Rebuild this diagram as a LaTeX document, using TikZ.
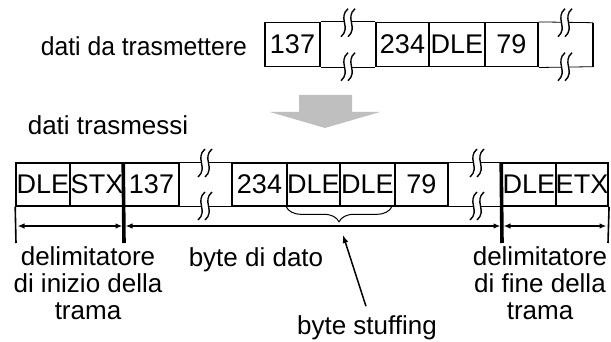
\documentclass[tikz,border=0pt]{standalone}
\usepackage{fontspec}
\setmainfont{Liberation Sans}
\newfontfamily\narrowsans{Liberation Sans}[FakeStretch=0.95]
\usetikzlibrary{arrows.meta,decorations.pathreplacing}

\begin{document}
\begin{tikzpicture}[x=1pt,y=-1pt,
  cell/.style={draw,line width=1.6pt,minimum height=43pt,inner sep=0pt,
    font=\fontsize{27}{27}\selectfont},
  rail/.style={line width=0.8pt},
  tick/.style={line width=1.6pt},
  bigtick/.style={line width=3.6pt},
  span/.style={line width=1.5pt,shorten <=1.5pt,shorten >=1.5pt,
    {Latex[length=7pt,width=5.5pt]}-{Latex[length=7pt,width=5.5pt]}},
  pointer/.style={line width=1.5pt,-{Latex[length=8pt,width=6pt]}},
  lab/.style={font=\fontsize{26}{27}\selectfont,align=center,inner sep=0pt},
  brk/.pic={
    \fill[white] (-4,-2.5) rectangle (4,2.5);
    \foreach \dx in {-3.5,3.5}
      \draw[line width=1.4pt] (\dx+3.5,-14) .. controls (\dx-7,-5) and (\dx+7,5) .. (\dx-3.5,14);
  }
]
  \useasboundingbox (0,0) rectangle (611,342);
  % data to send
  \node[cell,minimum width=55pt,minimum height=44pt] (t137) at (292.5,44.7) {137};
  \node[cell,minimum width=53pt,minimum height=44pt] (t234) at (402.5,44.7) {234};
  \node[cell,minimum width=56pt,minimum height=44pt] (tdle) at (457,44.7) {DLE};
  \node[cell,minimum width=53pt,minimum height=44pt] (t79) at (511.5,44.7) {79};
  \coordinate (tendN) at (593,22.7);
  \coordinate (tendS) at (593,66.7);
  \draw[rail] (t137.north east) -- (t234.north west);
  \draw[rail] (t137.south east) -- (t234.south west);
  \draw[rail] (t79.north east) -- (tendN);
  \draw[rail] (t79.south east) -- (tendS);
  \draw[tick] (tendN) -- (tendS);

  % transmitted frame
  \node[cell,minimum width=54pt] (bdle1) at (43,184.5) {DLE};
  \node[cell,minimum width=54pt] (bstx) at (97,184.5) {STX};
  \node[cell,minimum width=55pt] (b137) at (151.5,184.5) {137};
  \node[cell,minimum width=55pt] (b234) at (259.5,184.5) {234};
  \node[cell,minimum width=53pt] (bdle2) at (313.5,184.5) {DLE};
  \node[cell,minimum width=55pt] (bdle3) at (367.5,184.5) {DLE};
  \node[cell,minimum width=53pt] (b79) at (421.5,184.5) {79};
  \node[cell,minimum width=54pt] (bdle4) at (529,184.5) {DLE};
  \node[cell,minimum width=52pt] (betx) at (582,184.5) {ETX};
  \draw[rail] (b137.north east) -- (b234.north west);
  \draw[rail] (b137.south east) -- (b234.south west);
  \draw[rail] (b79.north east) -- (bdle4.north west);
  \draw[rail] (b79.south east) -- (bdle4.south west);

  % breaks
  \foreach \bx/\by in {348/22.7,348/66.7,565/22.7,565/66.7,205/163,205/206,477/163,477/206}
    \pic at (\bx,\by) {brk};

  % gray arrow
  \fill[black!25] (299,95) -- (352,95) -- (352,112) -- (380,112) -- (325,128)
    -- (270,112) -- (299,112) -- cycle;

  % field limits
  \coordinate (k1) at (16,243);
  \coordinate (k2) at (124,243);
  \coordinate (k3) at (502,243);
  \coordinate (k4) at (608,243);
  \draw[tick] (bdle1.south west) -- (k1);
  \draw[bigtick] (b137.north west) -- (k2);
  \draw[bigtick] (bdle4.north west) -- (k3);
  \draw[tick] (betx.south east) -- (k4);
  \coordinate (s1) at (16,226);
  \coordinate (s2) at (124,226);
  \coordinate (s3) at (502,226);
  \coordinate (s4) at (608,226);
  \draw[span] (s1) -- (s2);
  \draw[span] (s2) -- (s3);
  \draw[span] (s3) -- (s4);
  \draw[line width=1pt,decorate,decoration={brace,mirror,amplitude=15pt}]
    (bdle2.south west) -- ([xshift=-4pt]bdle3.south east);

  % labels
  \node[lab,font=\narrowsans\fontsize{26}{27}\selectfont,anchor=east] (sendlab) at (247,46) {dati da trasmettere};
  \node[lab] (sentlab) at (108,125) {dati trasmessi};
  \node[lab] (startlab) at (88,283) {delimitatore\\di inizio della\\trama};
  \node[lab] (datalab) at (256,260) {byte di dato};
  \node[lab] (endlab) at (540,283) {delimitatore\\di fine della\\trama};
  \node[lab] (stuff) at (367,328) {byte stuffing};
  \coordinate (stuffpt) at (343,235);
  \draw[pointer,shorten <=10pt] ([xshift=2pt]stuff.north) -- (stuffpt);
\end{tikzpicture}
\end{document}
